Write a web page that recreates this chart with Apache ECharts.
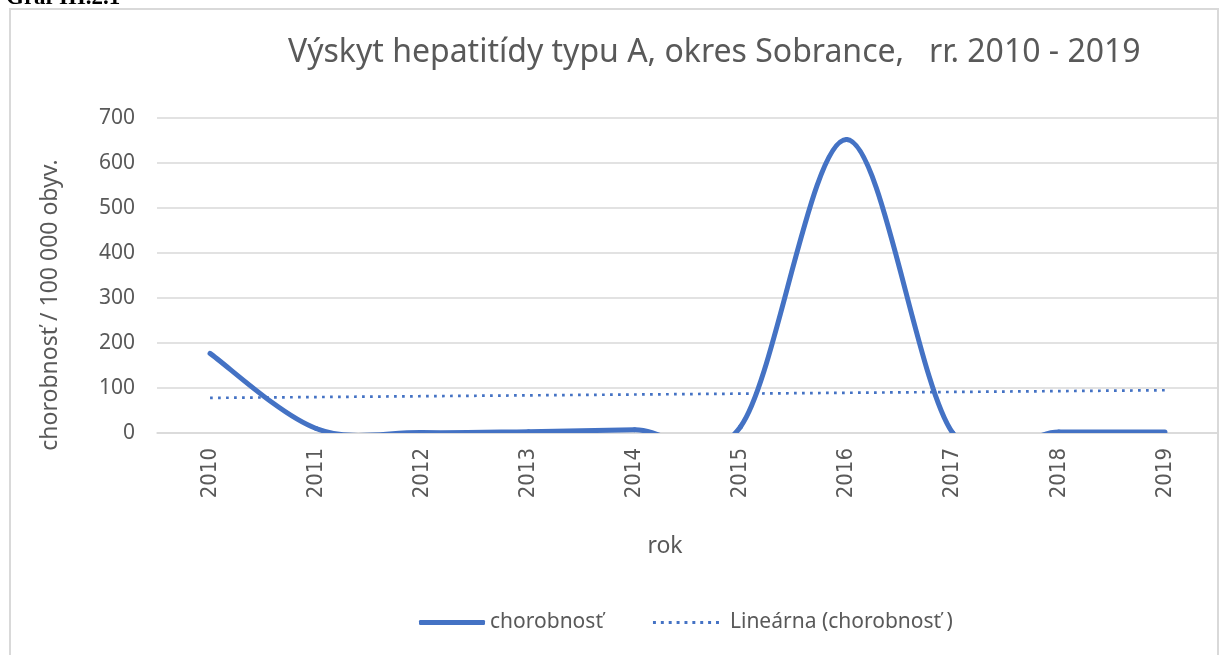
<!DOCTYPE html>
<html><head><meta charset="utf-8">
<script src="https://cdn.jsdelivr.net/npm/echarts@6/dist/echarts.min.js"></script>
<style>html,body{margin:0;padding:0;background:#fff}#c{width:1227px;height:655px}</style>
</head><body><div id="c"></div>
<script>
const categories = ['2010','2011','2012','2013','2014','2015','2016','2017','2018','2019'];
const chorobnost = [177, 10, 1, 3, 7, 14, 652, 0, 2, 2];
const trendEnds = [78, null, null, null, null, null, null, null, null, 95];
const yTicks = {min: 0, max: 700, interval: 100};

const blue = '#4472C4';
const txt = '#595959';
const n = chorobnost.length;

// Excel-like smoothed curve (Catmull-Rom Bezier) drawn through the axes' own scales
function renderCurve(params, api) {
  const i = params.dataIndex;
  if (i >= n - 1) return null;
  const pt = k => {
    const kk = Math.max(0, Math.min(n - 1, k));
    return api.coord([kk, chorobnost[kk]]);
  };
  const p0 = pt(i - 1), p1 = pt(i), p2 = pt(i + 1), p3 = pt(i + 2);
  return {
    type: 'bezierCurve',
    shape: {
      x1: p1[0], y1: p1[1], x2: p2[0], y2: p2[1],
      cpx1: p1[0] + (p2[0] - p0[0]) / 6, cpy1: p1[1] + (p2[1] - p0[1]) / 6,
      cpx2: p2[0] - (p3[0] - p1[0]) / 6, cpy2: p2[1] - (p3[1] - p1[1]) / 6
    },
    style: {stroke: blue, lineWidth: 5, fill: null, lineCap: 'round'}
  };
}

let dotPath = 'path://';
for (let k = 0; k < 9; k++) dotPath += 'M' + (k * 8) + ',0h3v3h-3z';

const chart = echarts.init(document.getElementById('c'));
chart.setOption({
  animation: false,
  grid: {left: 157, right: 9, top: 118, bottom: 222},
  title: {
    text: 'Výskyt hepatitídy typu A, okres Sobrance,   rr. 2010 - 2019',
    left: 283, top: 32,
    textStyle: {fontFamily: 'Noto Sans', fontWeight: 'normal', fontSize: 32, color: txt}
  },
  legend: {
    left: 414, top: 607, itemGap: 50, itemWidth: 66, itemHeight: 5,
    textStyle: {fontFamily: 'Noto Sans', fontSize: 21, color: txt},
    data: [
      {name: 'chorobnosť', icon: 'roundRect'},
      {name: 'Lineárna (chorobnosť )', icon: dotPath, textStyle: {padding: [0, 0, 0, 6]}}
    ]
  },
  xAxis: {
    type: 'category', data: categories, boundaryGap: true,
    axisLine: {lineStyle: {color: '#d9d9d9', width: 1.5}},
    axisTick: {show: false},
    axisLabel: {rotate: 90, margin: 15, fontFamily: '"Liberation Sans Narrow", "DejaVu Sans Condensed", "Liberation Sans"',
                fontSize: 22, color: txt}
  },
  yAxis: {
    type: 'value', min: yTicks.min, max: yTicks.max, interval: yTicks.interval,
    axisLine: {show: false}, axisTick: {show: false},
    splitLine: {lineStyle: {color: '#d9d9d9', width: 1.5}},
    axisLabel: {margin: 22, fontFamily: 'Noto Sans', fontSize: 21, color: txt}
  },
  graphic: [
    {type: 'rect', shape: {x: 10, y: 9, width: 1208, height: 660},
     style: {fill: 'none', stroke: '#d9d9d9', lineWidth: 2}},
    {type: 'text', x: 6, y: 10,
     style: {text: 'Graf III.2.1', font: 'bold 23px "Liberation Serif"', fill: '#000', verticalAlign: 'bottom'}},
    {type: 'text', x: 50, y: 305, rotation: Math.PI / 2,
     style: {text: 'chorobnosť / 100 000 obyv.', font: '23px "Noto Sans"', fill: txt,
             align: 'center', verticalAlign: 'middle'}},
    {type: 'text', x: 665, y: 546,
     style: {text: 'rok', font: '23px "Noto Sans"', fill: txt, align: 'center', verticalAlign: 'middle'}}
  ],
  series: [
    {name: 'chorobnosť', type: 'custom', renderItem: renderCurve, clip: true,
     data: chorobnost.map((v, i) => [i, v]), encode: {x: 0, y: 1},
     itemStyle: {color: blue}, z: 3},
    {name: 'Lineárna (chorobnosť )', type: 'line', data: trendEnds, connectNulls: true, symbol: 'none',
     lineStyle: {color: blue, width: 2.7, type: [2.7, 5.3]}, itemStyle: {color: blue}, z: 2}
  ]
});
</script></body></html>
